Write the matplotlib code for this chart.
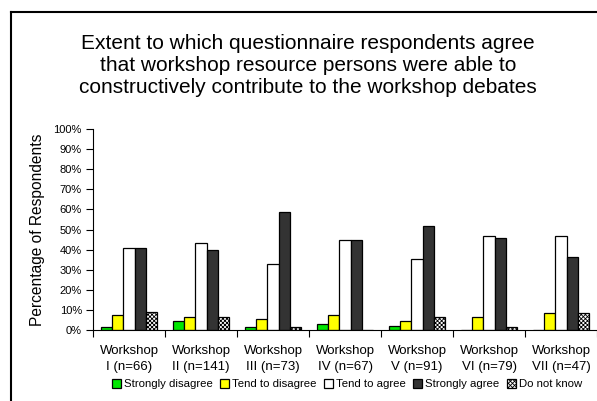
import matplotlib.pyplot as plt
from matplotlib.lines import Line2D
import numpy as np

plt.rcParams['font.family'] = ['Liberation Sans', 'DejaVu Sans']
plt.rcParams['hatch.linewidth'] = 0.6

# data (percent of respondents)
workshops = ['Workshop\nI (n=66)', 'Workshop\nII (n=141)', 'Workshop\nIII (n=73)',
             'Workshop\nIV (n=67)', 'Workshop\nV (n=91)', 'Workshop\nVI (n=79)',
             'Workshop\nVII (n=47)']
strongly_disagree = [1.5, 4.3, 1.4, 3.0, 2.2, 0, 0]
tend_disagree = [7.6, 6.4, 5.5, 7.5, 4.4, 6.3, 8.5]
tend_agree = [40.9, 43.3, 32.9, 44.8, 35.2, 46.8, 46.8]
strongly_agree = [40.9, 39.7, 58.9, 44.8, 51.6, 45.6, 36.2]
do_not_know = [9.1, 6.4, 1.4, 0, 6.6, 1.3, 8.5]

series = [
    ('Strongly disagree', strongly_disagree, '#00E600', None),
    ('Tend to disagree', tend_disagree, '#FFFF00', None),
    ('Tend to agree', tend_agree, 'white', None),
    ('Strongly agree', strongly_agree, '#333333', None),
    ('Do not know', do_not_know, 'white', 'xxxxxxxx'),
]

fig = plt.figure(figsize=(5.97, 4.01), dpi=100)
ax = fig.add_axes([93 / 597, 1 - 330 / 401, 1 - 93 / 597, (330 - 129) / 401])

x = np.arange(len(workshops))
w = 1 / 6.5
for i, (name, vals, col, hatch) in enumerate(series):
    ax.bar(x + (i - 2) * w, vals, width=w, color=col, edgecolor='black',
           linewidth=0.9, hatch=hatch, label=name)

ax.set_xlim(-0.5, len(workshops) - 0.5)
ax.set_ylim(0, 100)
ax.set_yticks(range(0, 101, 10))
ax.set_yticklabels([f'{v}%' for v in range(0, 101, 10)], fontsize=8)
ax.set_xticks(x)
ax.set_xticklabels(workshops, fontsize=9.5, linespacing=1.45)
ax.set_xticks(np.arange(len(workshops) + 1) - 0.5, minor=True)
ax.tick_params(axis='x', which='major', length=0, pad=10.5)
ax.tick_params(axis='x', which='minor', length=5, width=0.8, direction='out')
ax.tick_params(axis='y', length=5, width=0.8, direction='out', pad=3)
ax.spines['top'].set_visible(False)
ax.spines['right'].set_visible(False)
ax.set_ylabel('Percentage of Respondents', fontsize=11.2, labelpad=6)

fig.text(308 / 597, 1 - 65.5 / 401,
         'Extent to which questionnaire respondents agree\n'
         'that workshop resource persons were able to\n'
         'constructively contribute to the workshop debates',
         ha='center', va='center', fontsize=15, linespacing=1.23)

fig.legend(loc='center', bbox_to_anchor=(347 / 597, 1 - 384 / 401), ncol=5,
           frameon=False, fontsize=8.2, handlelength=0.8, handleheight=0.8,
           handletextpad=0.25, columnspacing=0.65, borderaxespad=0)

# outer chart frame (clipped at right and bottom)
fig.add_artist(Line2D([11 / 597, 1], [1 - 12 / 401, 1 - 12 / 401],
                      transform=fig.transFigure, color='black', linewidth=1.5))
fig.add_artist(Line2D([11 / 597, 11 / 597], [0, 1 - 12 / 401],
                      transform=fig.transFigure, color='black', linewidth=1.5))

fig.savefig('out.png', dpi=100)
